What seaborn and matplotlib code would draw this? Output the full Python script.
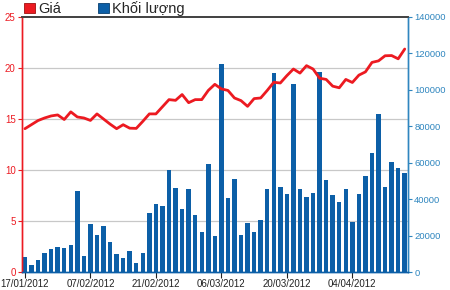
import matplotlib
matplotlib.use("Agg")
import matplotlib.pyplot as plt
from matplotlib.patches import Patch
import seaborn as sns
import numpy as np
import pandas as pd

# ---- data ----
price = [14.05, 14.45, 14.85, 15.1, 15.3, 15.4, 14.95, 15.7, 15.2, 15.1,
         14.86, 15.5, 15.0, 14.5, 14.05, 14.44, 14.1, 14.08, 14.77, 15.5,
         15.5, 16.2, 16.9, 16.83, 17.4, 16.6, 16.9, 16.9, 17.8, 18.4,
         17.95, 17.8, 17.06, 16.8, 16.24, 17.0, 17.06, 17.8, 18.6, 18.53,
         19.25, 19.9, 19.5, 20.23, 19.9, 19.0, 18.88, 18.22, 18.06, 18.88,
         18.58, 19.3, 19.62, 20.55, 20.7, 21.2, 21.22, 20.9, 21.86]
volume = [8400, 4000, 6800, 10200, 12400, 14000, 13000, 14800, 44500, 9000,
          26500, 20300, 25400, 16300, 10000, 7900, 11400, 5100, 10200, 32600,
          37200, 36000, 56200, 46300, 34400, 45600, 31500, 22000, 59100, 19800,
          114200, 40700, 51100, 20200, 26900, 22200, 28400, 45800, 109400, 46400,
          42900, 103300, 45800, 41300, 43500, 109900, 50400, 42400, 38500, 45800,
          27500, 42900, 52500, 65300, 86900, 46400, 60400, 57100, 54200]
tick_labels = ["17/01/2012", "07/02/2012", "21/02/2012", "06/03/2012",
               "20/03/2012", "04/04/2012"]
price_ticks = [0, 5, 10, 15, 20, 25]
volume_ticks = [0, 20000, 40000, 60000, 80000, 100000, 120000, 140000]
legend_labels = ["Giá", "Khối lượng"]

session = list(range(len(price)))
df = pd.DataFrame({"session": session, "price": price, "volume": volume})

RED = "#ec1a21"
BAR = "#0c5fa7"
RBLUE = "#2f86bf"

sns.set_style("white")
plt.rcParams["font.family"] = ["Liberation Sans", "DejaVu Sans"]

fig = plt.figure(figsize=(4.5, 2.9), dpi=100)
ax_vol = fig.add_axes([22 / 450, 18 / 290, 386 / 450, 255 / 290])
ax_price = ax_vol.twinx()

# volume bars (right axis)
sns.barplot(data=df, x="session", y="volume", ax=ax_vol, color=BAR,
            saturation=1, width=0.68, linewidth=0, native_scale=True, errorbar=None)
ax_vol.set_ylim(0, 140000)
ax_vol.yaxis.tick_right()
ax_vol.yaxis.set_label_position("right")
ax_vol.set_yticks(volume_ticks)
ax_vol.set_yticklabels([str(v) for v in volume_ticks])
ax_vol.tick_params(axis="y", colors=RBLUE, labelsize=6.8, length=3, width=0.8,
                   direction="out", pad=1.5, right=True, left=False)
# gridlines aligned to price ticks, drawn behind bars
scale = 140000 / 25
ax_vol.set_yticks([p * scale for p in price_ticks[1:-1]], minor=True)
ax_vol.grid(which="minor", axis="y", color="#c8c8c8", linewidth=0.9)
ax_vol.grid(which="major", visible=False)
ax_vol.tick_params(axis="y", which="minor", length=0)
ax_vol.set_axisbelow(True)

# price line (left axis) on top
sns.lineplot(data=df, x="session", y="price", ax=ax_price, color=RED,
             linewidth=2.0)
ax_price.set_ylim(0, 25)
ax_price.yaxis.tick_left()
ax_price.yaxis.set_label_position("left")
ax_price.set_yticks(price_ticks)
ax_price.tick_params(axis="y", colors=RED, labelsize=7, length=3, width=0.8,
                     direction="out", pad=1.5, left=True, right=False)

ax_vol.set_xlim(-0.45, len(price) - 0.5)
ax_vol.set_xticks(session[::10])
ax_vol.set_xticklabels(tick_labels)
ax_vol.tick_params(axis="x", colors="#222222", labelsize=7, length=4,
                   width=0.8, direction="out", pad=1, bottom=True)
for a in (ax_vol, ax_price):
    a.set_xlabel("")
    a.set_ylabel("")

for a in (ax_vol, ax_price):
    a.spines["left"].set_color(RED)
    a.spines["right"].set_color(RBLUE)
    a.spines["top"].set_color("#444444")
    a.spines["bottom"].set_color(BAR)
    for s in a.spines.values():
        s.set_linewidth(1.0)
    a.spines["top"].set_linewidth(1.3)

handles = [Patch(facecolor=RED, edgecolor="#a01010", linewidth=0.6),
           Patch(facecolor=BAR, edgecolor="#08406f", linewidth=0.6)]
fig.legend(handles, legend_labels, loc="lower left",
           bbox_to_anchor=(24 / 450, 274 / 290), ncol=2, frameon=False,
           fontsize=10.5, handlelength=0.75, handleheight=0.75,
           handletextpad=0.25, columnspacing=2.5, borderaxespad=0,
           borderpad=0)

fig.savefig("out.png", dpi=100)
